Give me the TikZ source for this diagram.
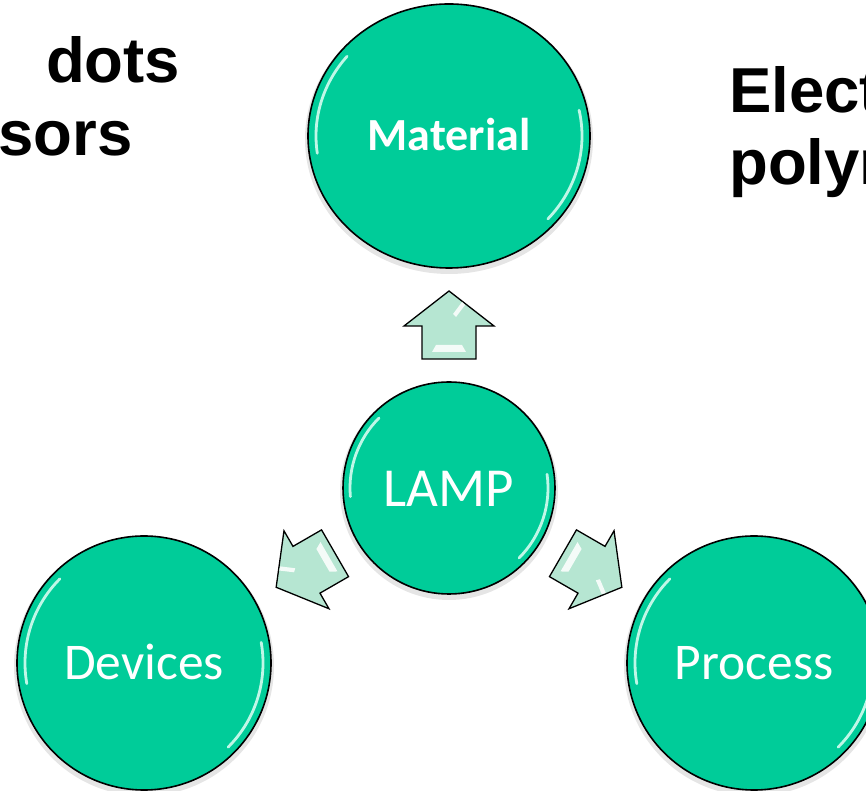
\documentclass[tikz,border=0pt]{standalone}
\usepackage{fontspec}
\setmainfont{Carlito}
\newfontfamily\arialfont{Liberation Sans}
\usetikzlibrary{shapes.geometric,calc}
\definecolor{lampgreen}{RGB}{0,204,153}
\definecolor{mint}{RGB}{182,230,210}
\definecolor{shinecol}{RGB}{225,255,245}
\begin{document}
\begin{tikzpicture}[x=1pt,y=1pt,
  bubble/.style={draw=black, line width=1.6pt, fill=lampgreen, text=white, inner sep=0pt, text depth=0pt},
  shine/.style={shinecol, line width=2.8pt, opacity=0.85, line cap=round},
  blockarrow/.style={draw=black, line width=1.3pt, fill=mint, line join=miter},
  arrowshine/.style={white, opacity=0.85},
  softshadow/.style={black, opacity=0.10},
  sidetext/.style={font=\arialfont\bfseries\fontsize{63.5}{72}\selectfont, anchor=base west, inner sep=0pt}]
\useasboundingbox (0,0) rectangle (866,791);
\clip (0,0) rectangle (866,791);

% soft shadows
\fill[softshadow] (449,652) ellipse [x radius=144, y radius=135];
\fill[softshadow] (449,300) circle [radius=109];
\fill[softshadow] (144,125) circle [radius=130];
\fill[softshadow] (754,125) circle [radius=130];

% bubbles
\node[bubble, ellipse, minimum width=282pt, minimum height=264pt,
      font=\bfseries\fontsize{46}{50}\selectfont, text height=30pt] (material) at (449,655) {Material};
\node[bubble, circle, minimum size=212pt,
      font=\fontsize{55}{60}\selectfont, text height=37pt] (lamp) at (449,303) {LAMP};
\node[bubble, circle, minimum size=254pt,
      font=\fontsize{51.5}{56}\selectfont, text height=33pt] (devices) at (144,128) {Devices};
\node[bubble, circle, minimum size=254pt,
      font=\fontsize{51.5}{56}\selectfont, text height=33pt] (process) at (754,128) {Process};

% glossy highlights
\draw[shine] ($(material.center)+(140:133 and 124)$) arc [start angle=140, end angle=188, x radius=133, y radius=124];
\draw[shine] ($(material.center)+(-42:133 and 124)$) arc [start angle=-42, end angle=12, x radius=133, y radius=124];
\draw[shine] ($(lamp.center)+(135:99)$) arc [start angle=135, end angle=185, radius=99];
\draw[shine] ($(lamp.center)+(-45:99)$) arc [start angle=-45, end angle=8, radius=99];
\draw[shine] ($(devices.center)+(135:119)$) arc [start angle=135, end angle=190, radius=119];
\draw[shine] ($(devices.center)+(-45:119)$) arc [start angle=-45, end angle=10, radius=119];
\draw[shine] ($(process.center)+(135:119)$) arc [start angle=135, end angle=190, radius=119];
\draw[shine] ($(process.center)+(-45:119)$) arc [start angle=-45, end angle=10, radius=119];

% block arrows, centred between the bubbles they join
\path (lamp) -- coordinate[midway] (toMaterial) (material);
\path (lamp) -- coordinate[midway] (toDevices) (devices);
\path (lamp) -- coordinate[midway] (toProcess) (process);
\foreach \c/\a in {toMaterial/90, toDevices/210, toProcess/-30}{
  \draw[blockarrow, shift={(\c)}, rotate=\a]
    (-34,-27) -- (-1,-27) -- (-1,-45) -- (34,0) -- (-1,45) -- (-1,27) -- (-34,27) -- cycle;
  \fill[arrowshine, shift={(\c)}, rotate=\a]
    (-27,-17) -- (-20,-13) -- (-20,13) -- (-27,17) -- cycle;
  \fill[arrowshine, shift={(\c)}, rotate=\a]
    (8,-7) -- (20,-16) -- (23,-13) -- (11,-4) -- cycle;
}

% side texts (cut by the picture edge)
\node[sidetext] (dots) at (46,708) {dots};
\node[sidetext] (sors) at (-2,635) {sors};
\node[sidetext] (elect) at (729,678) {Elect};
\node[sidetext] (polym) at (729,606) {polym};
\end{tikzpicture}
\end{document}
